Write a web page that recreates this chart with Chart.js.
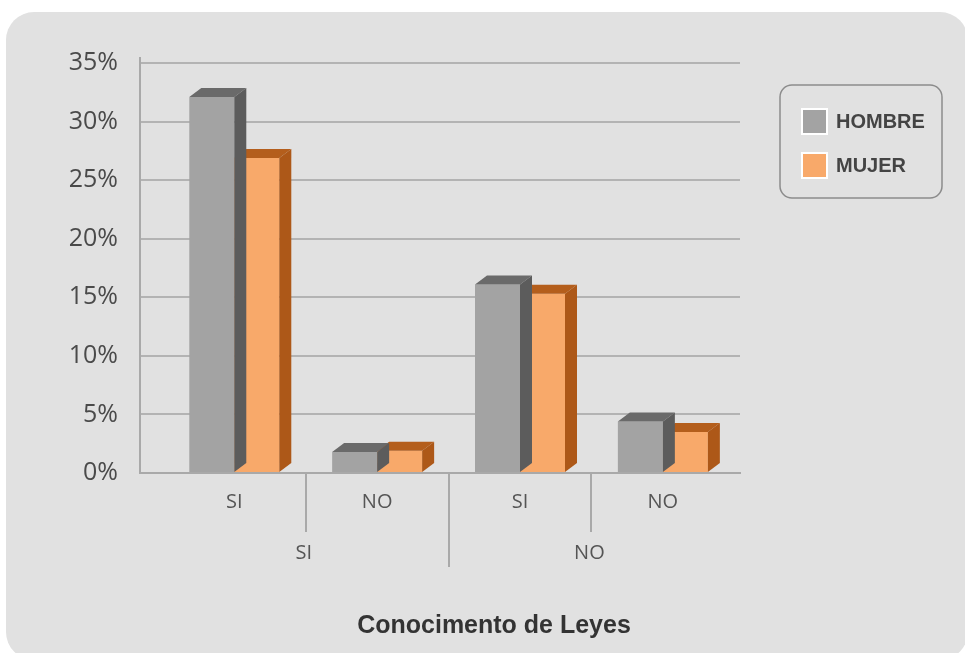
<!DOCTYPE html>
<html>
<head>
<meta charset="utf-8">
<script src="https://cdn.jsdelivr.net/npm/chart.js@4/dist/chart.umd.min.js"></script>
<style>
  html, body { margin: 0; padding: 0; background: #ffffff; }
  #wrap { width: 965px; height: 653px; position: relative; }
</style>
</head>
<body>
<div id="wrap"><canvas id="chart" width="965" height="653"></canvas></div>
<script>
// Survey results: knowledge of laws, split by sex
const groupLabels = ['SI', 'NO'];
const categoryLabels = ['SI', 'NO', 'SI', 'NO'];
const hombreValues = [32.1, 1.8, 16.1, 4.4];
const mujerValues = [26.9, 1.9, 15.3, 3.5];
const yTicks = [0, 5, 10, 15, 20, 25, 30, 35];
const axisTitle = 'Conocimento de Leyes';

const FONT = "'Open Sans', 'DejaVu Sans', sans-serif";
const BOLD = "'Liberation Sans', Arial, sans-serif";
const DEPTH_X = 12, DEPTH_Y = 9;

const toPoints = vals => vals.map((v, i) => ({ x: i, y: v }));

// Rounded grey panel behind the whole chart
const panelPlugin = {
  id: 'panel',
  beforeDraw(chart) {
    const ctx = chart.ctx;
    ctx.save();
    ctx.fillStyle = '#ffffff';
    ctx.fillRect(0, 0, chart.width, chart.height);
    ctx.beginPath();
    ctx.roundRect(6, 12, 962, 648, 28);
    ctx.fillStyle = '#e1e1e1';
    ctx.fill();
    ctx.restore();
  }
};

// Top and side faces that give each bar its depth
const depthPlugin = {
  id: 'depth',
  afterDatasetDraw(chart, args) {
    const ds = chart.data.datasets[args.index];
    const ctx = chart.ctx;
    ctx.save();
    args.meta.data.forEach(el => {
      const p = el.getProps(['x', 'y', 'base', 'width'], true);
      const l = p.x - p.width / 2, r = p.x + p.width / 2;
      // top face
      ctx.beginPath();
      ctx.moveTo(l, p.y);
      ctx.lineTo(l + DEPTH_X, p.y - DEPTH_Y);
      ctx.lineTo(r + DEPTH_X, p.y - DEPTH_Y);
      ctx.lineTo(r, p.y);
      ctx.closePath();
      ctx.fillStyle = ds.topColor;
      ctx.fill();
      // side face
      ctx.beginPath();
      ctx.moveTo(r, p.y);
      ctx.lineTo(r + DEPTH_X, p.y - DEPTH_Y);
      ctx.lineTo(r + DEPTH_X, p.base - DEPTH_Y);
      ctx.lineTo(r, p.base);
      ctx.closePath();
      ctx.fillStyle = ds.sideColor;
      ctx.fill();
    });
    ctx.restore();
  }
};

// Group separators, group labels, axis title and legend box
const decorPlugin = {
  id: 'decor',
  afterDraw(chart) {
    const ctx = chart.ctx;
    const xs = chart.scales.x, ys = chart.scales.y;
    const base = ys.getPixelForValue(0);
    ctx.save();
    ctx.strokeStyle = '#a9a9a9';
    ctx.lineWidth = 2;
    // y axis stub above the top gridline
    ctx.beginPath();
    ctx.moveTo(chart.chartArea.left, ys.getPixelForValue(35));
    ctx.lineTo(chart.chartArea.left, ys.getPixelForValue(35) - 6);
    ctx.stroke();
    // separators between categories
    [0.5, 1.5, 2.5].forEach((v, i) => {
      const px = Math.round(xs.getPixelForValue(v));
      ctx.beginPath();
      ctx.moveTo(px, base);
      ctx.lineTo(px, i === 1 ? base + 94 : base + 59);
      ctx.stroke();
    });
    // group labels
    ctx.fillStyle = '#555555';
    ctx.font = '20px ' + FONT;
    ctx.textAlign = 'center';
    ctx.textBaseline = 'middle';
    groupLabels.forEach((g, i) => {
      ctx.fillText(g, xs.getPixelForValue(0.5 + 2 * i) - 2, base + 80);
    });
    // axis title
    ctx.fillStyle = '#333333';
    ctx.font = 'bold 25px ' + BOLD;
    ctx.fillText(axisTitle, 494, 626);
    // legend
    ctx.beginPath();
    ctx.roundRect(780, 85, 162, 113, 12);
    ctx.strokeStyle = '#8c8c8c';
    ctx.lineWidth = 1.5;
    ctx.stroke();
    chart.data.datasets.forEach((ds, i) => {
      const y = 110 + i * 44;
      ctx.fillStyle = '#ffffff';
      ctx.fillRect(801, y - 2, 27, 27);
      ctx.fillStyle = ds.backgroundColor;
      ctx.fillRect(803, y, 23, 23);
      ctx.fillStyle = '#444444';
      ctx.font = 'bold 20px ' + BOLD;
      ctx.textAlign = 'left';
      ctx.fillText(ds.label, 836, y + 12);
    });
    ctx.restore();
  }
};

new Chart(document.getElementById('chart'), {
  type: 'bar',
  data: {
    datasets: [
      {
        label: 'HOMBRE',
        data: toPoints(hombreValues),
        backgroundColor: '#a3a3a3',
        topColor: '#6a6a6a',
        sideColor: '#5c5c5c',
        borderWidth: 0
      },
      {
        label: 'MUJER',
        data: toPoints(mujerValues),
        backgroundColor: '#f8a96a',
        topColor: '#b45e1c',
        sideColor: '#ad5818',
        borderWidth: 0
      }
    ]
  },
  options: {
    responsive: false,
    animation: false,
    devicePixelRatio: 1,
    layout: { padding: { top: 63, right: 225, left: 0, bottom: 0 } },
    datasets: { bar: { barPercentage: 1, categoryPercentage: 0.63 } },
    plugins: { legend: { display: false }, tooltip: { enabled: false } },
    scales: {
      x: {
        type: 'linear',
        offset: false,
        bounds: 'ticks',
        min: -0.66,
        max: 3.54,
        afterBuildTicks: s => { s.ticks = categoryLabels.map((_, i) => ({ value: i })); },
        afterFit: s => { s.height = 180; },
        grid: { display: false },
        border: { display: true, color: '#a9a9a9', width: 2 },
        ticks: {
          autoSkip: false,
          maxRotation: 0,
          padding: 9,
          color: '#555555',
          font: { family: FONT, size: 20 },
          callback: v => categoryLabels[v]
        }
      },
      y: {
        min: 0,
        max: 35,
        afterBuildTicks: s => { s.ticks = yTicks.map(v => ({ value: v })); },
        afterFit: s => { s.width = 140; },
        grid: { color: '#b3b3b3', lineWidth: 2, drawTicks: false },
        border: { display: true, color: '#a9a9a9', width: 2 },
        ticks: {
          padding: 22,
          color: '#4a4a4a',
          font: { family: FONT, size: 25 },
          callback: v => v + '%'
        }
      }
    }
  },
  plugins: [panelPlugin, depthPlugin, decorPlugin]
});
</script>
</body>
</html>
